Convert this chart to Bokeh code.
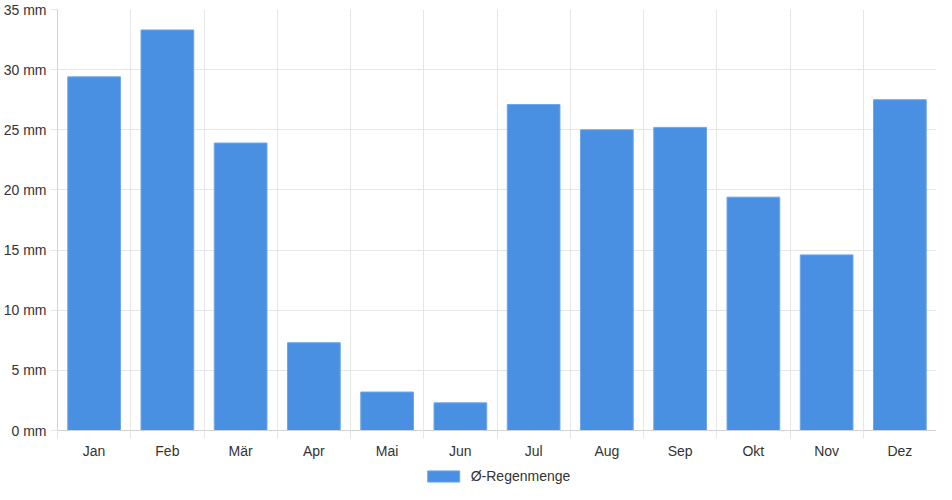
from bokeh.plotting import figure
from bokeh.layouts import column
from bokeh.models import ColumnDataSource, Range1d, FixedTicker, Legend, LegendItem
from bokeh.embed import file_html
from bokeh.resources import INLINE

# data
months = ["Jan", "Feb", "Mär", "Apr", "Mai", "Jun", "Jul", "Aug", "Sep", "Okt", "Nov", "Dez"]
rain = [29.4, 33.3, 23.9, 7.3, 3.2, 2.3, 27.1, 25.0, 25.2, 19.4, 14.6, 27.5]
y_ticks = [0, 5, 10, 15, 20, 25, 30, 35]
series_name = "Ø-Regenmenge"

FONT = "Liberation Sans"
TEXT = "#333333"
GRID = "#e6e6e6"
AXIS = "#d2d2d2"
BAR = "#4a90e2"
BAR_EDGE = "#6fa6ea"

centers = [i + 0.5 for i in range(len(months))]
src = ColumnDataSource(dict(x=centers, rain=rain, month=months))

p = figure(width=936, height=461, output_backend="svg", toolbar_location=None,
           x_range=Range1d(0, len(months)), y_range=Range1d(0, 35),
           min_border_left=0, min_border_right=0, min_border_top=9, min_border_bottom=0)
p.outline_line_color = None

r = p.vbar(x="x", top="rain", width=0.72, source=src,
           fill_color=BAR, line_color=BAR_EDGE, line_width=1)

# x axis: labels at centres, small ticks at the category boundaries
p.xaxis.ticker = FixedTicker(ticks=centers, minor_ticks=list(range(len(months) + 1)))
p.xaxis.major_label_overrides = {c: m for c, m in zip(centers, months)}
p.xaxis.major_tick_line_color = None
p.xaxis.major_tick_out = 8
p.xaxis.minor_tick_in = 0
p.xaxis.minor_tick_out = 8
p.xaxis.minor_tick_line_color = GRID
p.xaxis.axis_line_color = AXIS
p.xaxis.major_label_standoff = 4
p.xgrid.ticker = FixedTicker(ticks=list(range(len(months) + 1)))
p.xgrid.grid_line_color = GRID

# y axis
p.yaxis.ticker = FixedTicker(ticks=y_ticks)
p.yaxis.major_label_overrides = {t: f"{t} mm" for t in y_ticks}
p.yaxis.major_tick_in = 0
p.yaxis.major_tick_out = 7
p.yaxis.major_tick_line_color = GRID
p.yaxis.minor_tick_line_color = None
p.yaxis.axis_line_color = AXIS
p.yaxis.major_label_standoff = 4
p.ygrid.grid_line_color = GRID

for ax in (p.xaxis, p.yaxis):
    ax.major_label_text_font = FONT
    ax.major_label_text_font_size = "14px"
    ax.major_label_text_color = TEXT

# separate strip for the legend; its copy of the bars lies outside its range
lg = figure(width=936, height=23, output_backend="svg", toolbar_location=None,
            x_range=Range1d(0, 1), y_range=Range1d(100, 101),
            x_axis_type=None, y_axis_type=None, min_border=0)
lg.outline_line_color = None
r2 = lg.vbar(x="x", top="rain", width=0.72, source=src,
             fill_color=BAR, line_color=BAR_EDGE, line_width=1)
legend = Legend(items=[LegendItem(label=series_name, renderers=[r2])],
                location="bottom_center", orientation="horizontal",
                glyph_width=40, glyph_height=14, label_standoff=8, label_height=14,
                label_text_font=FONT, label_text_font_size="14px",
                label_text_color=TEXT, padding=2, margin=0, spacing=0,
                border_line_color=None, background_fill_alpha=0)
lg.add_layout(legend)

open("out.html", "w").write(file_html(column(p, lg, spacing=0), INLINE))
